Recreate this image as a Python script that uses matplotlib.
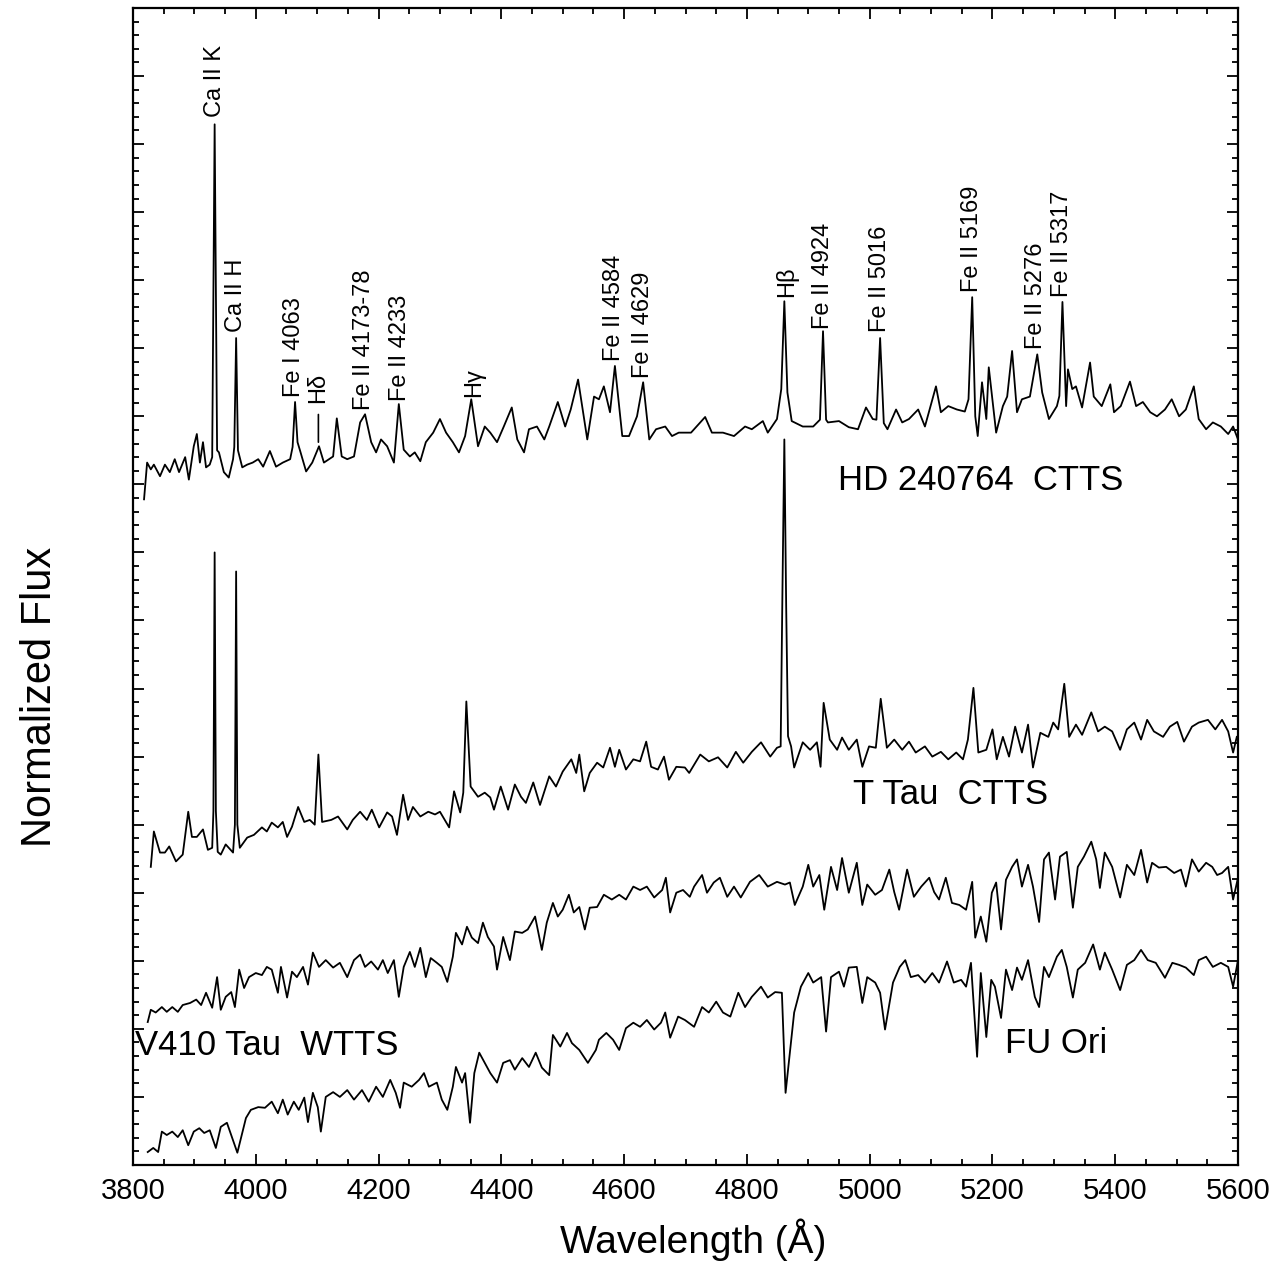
import matplotlib
matplotlib.use("Agg")
import matplotlib.pyplot as plt
from matplotlib.ticker import MultipleLocator, NullFormatter

plt.rcParams['font.family'] = ['Liberation Sans', 'DejaVu Sans']

# --- HD 240764 (CTTS), top spectrum ---
hd_wave = [3818, 3823, 3829, 3834, 3844, 3852, 3860, 3868, 3875, 3885, 3891, 3899, 3904, 3909, 3914,
           3919, 3925, 3929, 3933, 3937, 3940, 3948, 3956, 3963, 3965, 3968, 3971, 3978, 3986, 3995,
           4004, 4012, 4023, 4033, 4044, 4056, 4060, 4064, 4068, 4072, 4082, 4092, 4103, 4111, 4126,
           4132, 4140, 4149, 4160, 4170, 4178, 4188, 4196, 4204, 4214, 4225, 4233, 4241, 4251, 4259,
           4268, 4277, 4289, 4300, 4310, 4321, 4331, 4341, 4351, 4362, 4373, 4382, 4393, 4404, 4417,
           4426, 4437, 4445, 4458, 4470, 4478, 4492, 4504, 4513, 4525, 4540, 4551, 4559, 4567, 4577,
           4585, 4597, 4608, 4621, 4631, 4641, 4652, 4667, 4678, 4689, 4709, 4732, 4743, 4761, 4779,
           4797, 4808, 4826, 4834, 4849, 4856, 4861, 4866, 4873, 4891, 4908, 4919, 4924, 4929, 4932,
           4950, 4966, 4981, 4994, 5005, 5011, 5017, 5023, 5029, 5043, 5053, 5064, 5079, 5090, 5108,
           5116, 5128, 5142, 5155, 5161, 5167, 5172, 5176, 5183, 5190, 5194, 5206, 5217, 5224, 5232,
           5240, 5248, 5261, 5273, 5281, 5292, 5305, 5309, 5314, 5320, 5323, 5330, 5336, 5346, 5359,
           5365, 5378, 5392, 5398, 5409, 5424, 5434, 5445, 5457, 5468, 5481, 5492, 5504, 5515, 5528,
           5536, 5548, 5559, 5572, 5584, 5592, 5600]
hd_flux = [9.78, 10.32, 10.22, 10.29, 10.12, 10.29, 10.18, 10.37, 10.18, 10.40, 10.07, 10.56, 10.74, 10.32, 10.62,
           10.25, 10.29, 10.40, 15.29, 10.50, 10.47, 10.18, 10.10, 10.37, 10.55, 12.15, 10.50, 10.25, 10.29, 10.32,
           10.37, 10.26, 10.49, 10.26, 10.32, 10.37, 10.55, 11.21, 10.62, 10.50, 10.19, 10.32, 10.56, 10.32, 10.41,
           10.97, 10.41, 10.37, 10.41, 10.91, 11.03, 10.62, 10.47, 10.66, 10.56, 10.32, 11.18, 10.51, 10.41, 10.47,
           10.34, 10.62, 10.76, 10.96, 10.76, 10.62, 10.47, 10.71, 11.25, 10.56, 10.85, 10.76, 10.62, 10.85, 11.13,
           10.66, 10.47, 10.81, 10.85, 10.66, 10.85, 11.21, 10.85, 11.10, 11.54, 10.66, 11.29, 11.25, 11.44, 11.06,
           11.74, 10.71, 10.71, 11.00, 11.50, 10.66, 10.81, 10.85, 10.71, 10.76, 10.76, 10.99, 10.76, 10.76, 10.71,
           10.85, 10.81, 10.93, 10.76, 10.96, 11.40, 12.69, 11.35, 10.93, 10.85, 10.85, 10.95, 12.25, 10.95, 10.91,
           10.93, 10.84, 10.81, 11.13, 10.96, 10.95, 12.15, 10.90, 10.81, 11.10, 10.91, 10.96, 11.10, 10.85, 11.44,
           11.06, 11.15, 11.10, 11.07, 11.25, 12.75, 11.00, 10.71, 11.50, 10.96, 11.72, 10.76, 11.15, 11.29, 11.96,
           11.06, 11.25, 11.29, 11.91, 11.35, 10.96, 11.15, 11.30, 12.68, 11.15, 11.69, 11.40, 11.44, 11.13, 11.79,
           11.29, 11.15, 11.47, 11.06, 11.15, 11.51, 11.15, 11.21, 11.06, 11.00, 11.10, 11.25, 11.00, 11.10, 11.44,
           10.96, 10.81, 10.91, 10.85, 10.74, 10.85, 10.66]

# --- T Tau (CTTS) ---
ttau_wave = [3829, 3834, 3844, 3852, 3859, 3870, 3881, 3890, 3896, 3904, 3914, 3922, 3929, 3931, 3933,
             3935, 3938, 3943, 3951, 3963, 3966, 3968, 3970, 3974, 3986, 3997, 4010, 4018, 4026, 4036,
             4044, 4051, 4059, 4069, 4079, 4088, 4096, 4102, 4108, 4123, 4134, 4149, 4158, 4170, 4181,
             4189, 4201, 4214, 4222, 4230, 4240, 4248, 4256, 4268, 4281, 4292, 4300, 4315, 4323, 4333,
             4338, 4343, 4350, 4362, 4373, 4382, 4388, 4399, 4411, 4422, 4432, 4440, 4452, 4463, 4478,
             4489, 4500, 4514, 4522, 4527, 4535, 4544, 4556, 4566, 4577, 4585, 4592, 4603, 4615, 4626,
             4636, 4644, 4655, 4665, 4673, 4685, 4699, 4706, 4724, 4738, 4753, 4768, 4782, 4794, 4808,
             4823, 4838, 4849, 4855, 4858, 4861, 4864, 4867, 4872, 4877, 4891, 4903, 4914, 4920, 4925,
             4935, 4947, 4955, 4966, 4979, 4988, 4999, 5010, 5018, 5028, 5040, 5053, 5064, 5075, 5090,
             5102, 5116, 5128, 5141, 5152, 5160, 5169, 5177, 5190, 5200, 5207, 5217, 5227, 5237, 5248,
             5258, 5266, 5278, 5291, 5299, 5307, 5317, 5325, 5336, 5346, 5361, 5372, 5383, 5395, 5408,
             5419, 5431, 5442, 5452, 5463, 5478, 5489, 5501, 5512, 5525, 5536, 5551, 5563, 5574, 5584,
             5592, 5598]
ttau_flux = [4.38, 4.90, 4.59, 4.59, 4.68, 4.46, 4.56, 5.19, 4.82, 4.82, 4.93, 4.63, 4.66, 5.20, 9.00,
             5.20, 4.60, 4.56, 4.71, 4.59, 5.00, 8.72, 5.00, 4.66, 4.81, 4.85, 4.96, 4.90, 5.03, 4.96,
             5.04, 4.82, 4.97, 5.26, 5.04, 5.07, 5.00, 6.03, 5.04, 5.07, 5.12, 4.93, 5.07, 5.19, 5.07,
             5.22, 4.96, 5.18, 5.12, 4.85, 5.44, 5.07, 5.26, 5.12, 5.19, 5.15, 5.19, 4.96, 5.49, 5.18,
             5.47, 6.81, 5.56, 5.41, 5.47, 5.40, 5.22, 5.56, 5.22, 5.59, 5.41, 5.32, 5.62, 5.29, 5.71,
             5.56, 5.78, 5.96, 5.76, 6.03, 5.49, 5.76, 5.91, 5.84, 6.13, 5.85, 6.10, 5.81, 5.96, 5.93,
             6.22, 5.85, 5.81, 6.00, 5.66, 5.85, 5.84, 5.76, 6.03, 5.93, 5.99, 5.84, 6.07, 5.91, 6.07,
             6.21, 6.00, 6.13, 6.15, 8.50, 10.66, 8.20, 6.30, 6.15, 5.84, 6.21, 6.10, 6.21, 5.85, 6.79,
             6.25, 6.10, 6.28, 6.10, 6.25, 5.85, 6.15, 6.13, 6.85, 6.13, 6.25, 6.10, 6.22, 6.06, 6.15,
             6.00, 6.07, 5.96, 6.06, 5.96, 6.25, 7.01, 6.06, 6.10, 6.40, 5.96, 6.29, 6.00, 6.44, 6.06,
             6.47, 5.84, 6.35, 6.29, 6.50, 6.40, 7.07, 6.29, 6.47, 6.32, 6.65, 6.37, 6.44, 6.37, 6.10,
             6.40, 6.50, 6.25, 6.54, 6.37, 6.29, 6.44, 6.51, 6.22, 6.44, 6.50, 6.54, 6.40, 6.54, 6.37,
             6.06, 6.29]

# --- V410 Tau (WTTS) ---
v410_wave = [3824, 3829, 3837, 3847, 3855, 3864, 3873, 3881, 3893, 3903, 3911, 3919, 3929, 3937, 3943,
             3951, 3960, 3966, 3973, 3981, 3989, 4000, 4010, 4018, 4026, 4036, 4041, 4051, 4059, 4067,
             4077, 4085, 4093, 4103, 4114, 4126, 4137, 4149, 4160, 4170, 4178, 4188, 4199, 4207, 4215,
             4225, 4233, 4241, 4251, 4259, 4268, 4277, 4285, 4295, 4303, 4312, 4321, 4326, 4336, 4344,
             4352, 4362, 4370, 4378, 4388, 4393, 4403, 4414, 4422, 4434, 4443, 4455, 4466, 4474, 4484,
             4492, 4500, 4510, 4518, 4527, 4536, 4544, 4556, 4567, 4580, 4592, 4603, 4615, 4626, 4637,
             4649, 4662, 4668, 4675, 4685, 4696, 4707, 4714, 4727, 4735, 4746, 4756, 4768, 4779, 4790,
             4805, 4820, 4834, 4849, 4862, 4870, 4878, 4891, 4900, 4908, 4918, 4926, 4937, 4947, 4955,
             4966, 4979, 4988, 4996, 5009, 5020, 5032, 5040, 5048, 5061, 5072, 5084, 5097, 5105, 5113,
             5124, 5134, 5146, 5157, 5167, 5172, 5181, 5190, 5199, 5206, 5214, 5222, 5232, 5240, 5248,
             5258, 5266, 5276, 5284, 5292, 5302, 5310, 5321, 5331, 5339, 5349, 5361, 5369, 5375, 5383,
             5395, 5408, 5419, 5431, 5442, 5452, 5460, 5471, 5483, 5496, 5507, 5515, 5525, 5536, 5548,
             5558, 5566, 5574, 5584, 5592, 5600]
v410_flux = [2.10, 2.28, 2.24, 2.32, 2.25, 2.32, 2.25, 2.35, 2.38, 2.43, 2.35, 2.53, 2.31, 2.76, 2.28,
             2.47, 2.54, 2.32, 2.87, 2.60, 2.76, 2.82, 2.79, 2.91, 2.87, 2.53, 2.91, 2.46, 2.84, 2.76,
             2.91, 2.65, 3.12, 2.91, 3.01, 2.90, 2.97, 2.76, 3.01, 3.09, 2.91, 2.99, 2.87, 3.01, 2.82,
             3.01, 2.47, 2.91, 3.13, 2.91, 3.19, 2.76, 3.04, 2.97, 2.91, 2.69, 3.06, 3.41, 3.24, 3.50,
             3.34, 3.26, 3.56, 3.35, 3.21, 2.87, 3.35, 3.01, 3.43, 3.41, 3.46, 3.65, 3.16, 3.56, 3.85,
             3.65, 3.75, 3.97, 3.71, 3.79, 3.46, 3.78, 3.79, 3.97, 3.90, 3.97, 3.90, 4.09, 4.04, 4.09,
             3.93, 4.04, 4.22, 3.71, 4.00, 4.04, 3.94, 4.09, 4.26, 4.00, 4.15, 4.22, 3.94, 4.09, 3.93,
             4.16, 4.26, 4.09, 4.16, 4.12, 4.15, 3.82, 4.09, 4.41, 4.09, 4.26, 3.75, 4.38, 4.04, 4.51,
             4.00, 4.44, 3.82, 4.12, 3.97, 4.04, 4.34, 4.01, 3.75, 4.34, 3.94, 4.09, 4.22, 4.01, 3.90,
             4.22, 3.85, 3.82, 3.75, 4.16, 3.34, 3.65, 3.28, 4.00, 4.15, 3.46, 4.19, 4.38, 4.49, 4.09,
             4.41, 4.09, 3.57, 4.49, 4.59, 3.90, 4.53, 4.60, 3.78, 4.38, 4.53, 4.75, 4.49, 4.07, 4.59,
             4.38, 3.93, 4.41, 4.26, 4.63, 4.15, 4.44, 4.37, 4.38, 4.29, 4.34, 4.09, 4.49, 4.31, 4.44,
             4.38, 4.26, 4.29, 4.38, 3.90, 4.22]

# --- FU Ori ---
fuori_wave = [3824, 3833, 3841, 3847, 3855, 3864, 3873, 3881, 3890, 3899, 3908, 3916, 3925, 3935, 3943,
              3953, 3960, 3970, 3984, 3992, 4004, 4015, 4026, 4036, 4044, 4052, 4062, 4070, 4079, 4085,
              4093, 4101, 4106, 4114, 4126, 4137, 4149, 4160, 4173, 4184, 4196, 4207, 4219, 4228, 4235,
              4241, 4254, 4266, 4274, 4282, 4295, 4303, 4312, 4321, 4326, 4336, 4341, 4349, 4356, 4364,
              4373, 4382, 4393, 4403, 4414, 4422, 4434, 4445, 4456, 4466, 4478, 4484, 4496, 4507, 4515,
              4527, 4541, 4554, 4559, 4571, 4582, 4592, 4603, 4615, 4626, 4637, 4649, 4660, 4667, 4675,
              4688, 4699, 4714, 4727, 4738, 4750, 4761, 4773, 4786, 4797, 4808, 4823, 4834, 4846, 4857,
              4863, 4877, 4888, 4900, 4908, 4921, 4929, 4937, 4950, 4958, 4966, 4979, 4988, 4996, 5009,
              5017, 5025, 5038, 5049, 5058, 5067, 5079, 5090, 5102, 5113, 5126, 5137, 5149, 5157, 5165,
              5175, 5181, 5190, 5198, 5204, 5214, 5222, 5232, 5240, 5248, 5258, 5269, 5276, 5284, 5292,
              5305, 5313, 5321, 5331, 5339, 5351, 5364, 5375, 5383, 5395, 5408, 5419, 5431, 5442, 5453,
              5466, 5481, 5493, 5504, 5515, 5528, 5536, 5548, 5559, 5572, 5584, 5592, 5600]
fuori_flux = [0.19, 0.25, 0.19, 0.49, 0.44, 0.49, 0.41, 0.51, 0.29, 0.49, 0.54, 0.47, 0.51, 0.25, 0.56,
              0.62, 0.44, 0.18, 0.69, 0.81, 0.85, 0.84, 0.93, 0.76, 0.96, 0.74, 0.93, 0.81, 0.99, 0.63,
              1.06, 0.85, 0.49, 1.00, 1.07, 1.00, 1.10, 0.96, 1.10, 0.93, 1.15, 1.00, 1.25, 1.06, 0.84,
              1.21, 1.15, 1.25, 1.35, 1.15, 1.21, 0.96, 0.81, 1.15, 1.44, 1.21, 1.35, 0.62, 1.35, 1.65,
              1.50, 1.35, 1.21, 1.50, 1.54, 1.40, 1.57, 1.44, 1.65, 1.43, 1.32, 1.91, 1.74, 1.94, 1.79,
              1.69, 1.50, 1.69, 1.84, 1.94, 1.84, 1.69, 2.01, 2.09, 2.03, 2.13, 1.99, 2.09, 2.24, 1.87,
              2.18, 2.13, 2.03, 2.32, 2.24, 2.40, 2.24, 2.18, 2.53, 2.32, 2.47, 2.62, 2.46, 2.54, 2.53,
              1.06, 2.24, 2.62, 2.82, 2.68, 2.76, 1.96, 2.76, 2.84, 2.62, 2.90, 2.91, 2.38, 2.76, 2.68,
              2.53, 1.99, 2.68, 2.91, 3.01, 2.76, 2.79, 2.68, 2.82, 2.68, 2.99, 2.68, 2.72, 2.62, 2.97,
              1.59, 2.82, 1.88, 2.72, 2.62, 2.16, 2.87, 2.57, 2.90, 2.72, 3.01, 2.47, 2.32, 2.91, 2.76,
              3.06, 3.16, 2.91, 2.46, 2.87, 2.97, 3.24, 2.87, 3.12, 2.87, 2.57, 2.94, 3.01, 3.16, 3.01,
              2.97, 2.75, 2.97, 2.94, 2.90, 2.79, 3.01, 3.06, 2.91, 2.97, 2.91, 2.62, 3.01]

# line identifications on the top spectrum (name, wavelength, flux at label base)
line_names = ['Ca II K', 'Ca II H', 'Fe I 4063', 'Fe II 4173-78', 'Fe II 4233', 'Hγ',
              'Fe II 4584', 'Fe II 4629', 'Hβ', 'Fe II 4924', 'Fe II 5016', 'Fe II 5169',
              'Fe II 5276', 'Fe II 5317']
line_waves = [3933, 3968, 4063, 4176, 4235, 4355, 4584, 4631, 4864, 4924, 5017, 5167, 5271, 5313]
line_tops = [15.40, 12.24, 11.28, 11.10, 11.22, 11.28, 11.81, 11.57, 12.75, 12.28, 12.24, 12.82, 11.99, 12.75]

star_names = ['HD 240764  CTTS', 'T Tau  CTTS', 'V410 Tau  WTTS', 'FU Ori']
star_waves = [4948, 4973, 3803, 5220]
star_levels = [10.06, 5.44, 1.76, 1.79]

fig = plt.figure(figsize=(12.8, 12.83), dpi=100)
ax = fig.add_axes([0.1039, 0.092, 0.8633, 0.9018])

for w, f in [(hd_wave, hd_flux), (ttau_wave, ttau_flux), (v410_wave, v410_flux), (fuori_wave, fuori_flux)]:
    ax.plot(w, f, color='black', lw=1.3)

for name, w, top in zip(line_names, line_waves, line_tops):
    ax.text(w, top, name, rotation=90, ha='center', va='bottom', fontsize=17)

# H delta marked with a short line
ax.annotate('Hδ', xy=(4102, 10.62), xytext=(4102, 11.19), rotation=90,
            ha='center', va='bottom', fontsize=17,
            arrowprops=dict(arrowstyle='-', lw=1.2, color='black', shrinkA=6, shrinkB=0))

for name, w, lev in zip(star_names, star_waves, star_levels):
    ax.text(w, lev, name, ha='left', va='center', fontsize=25)

ax.set_xlim(3800, 5600)
ax.set_ylim(0, 17)
ax.xaxis.set_major_locator(MultipleLocator(200))
ax.xaxis.set_minor_locator(MultipleLocator(50))
ax.yaxis.set_major_locator(MultipleLocator(1))
ax.yaxis.set_minor_locator(MultipleLocator(0.2))
ax.yaxis.set_major_formatter(NullFormatter())
ax.tick_params(which='both', direction='in', top=True, right=True, width=1.3)
ax.tick_params(which='major', length=8)
ax.tick_params(which='minor', length=4)
ax.tick_params(axis='x', which='major', pad=9, labelsize=21)
for lab in ax.get_xticklabels():
    lab.set_family(['Liberation Sans Narrow', 'Liberation Sans'])
for s in ax.spines.values():
    s.set_linewidth(1.6)

ax.set_xlabel('Wavelength (Å)', fontsize=28, va='center')
ax.xaxis.set_label_coords(0.507, -0.065)
ax.set_ylabel('Normalized Flux', fontsize=30, va='center')
ax.yaxis.set_label_coords(-0.084, 0.405)

fig.savefig('out.png', dpi=100)
